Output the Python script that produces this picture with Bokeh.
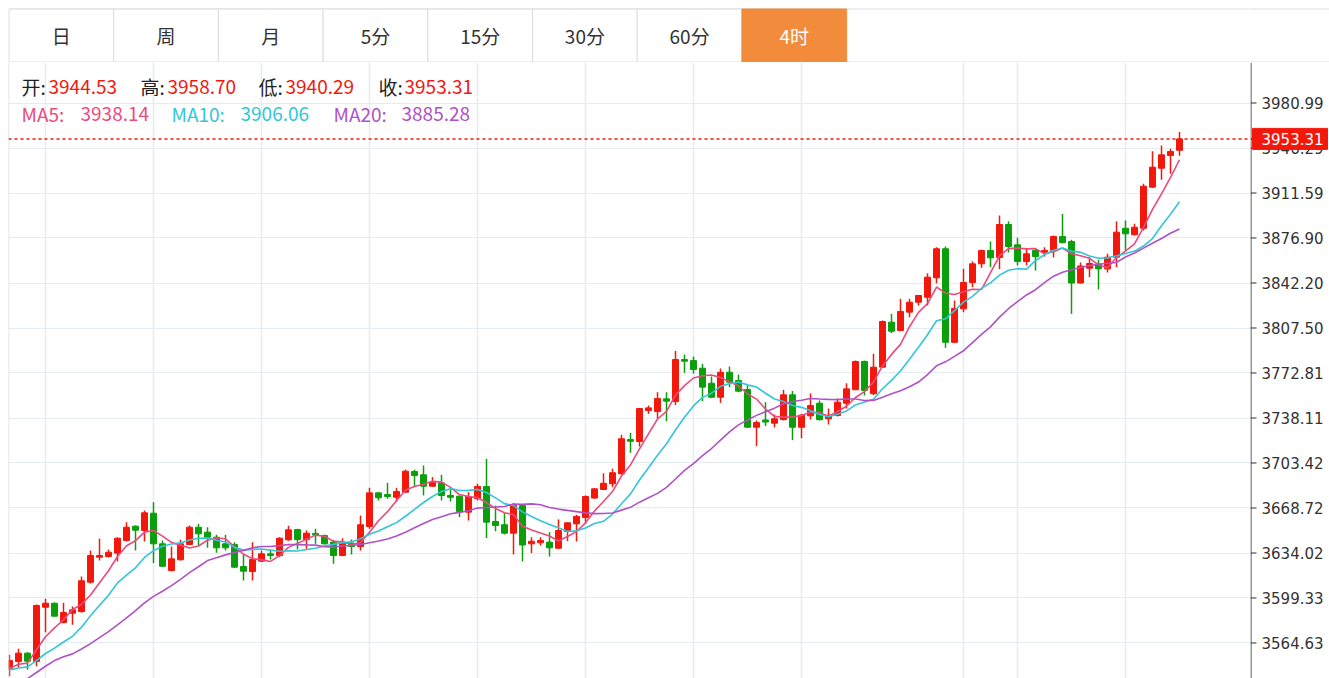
import pandas as pd
from bokeh.plotting import figure
from bokeh.models import (Range1d, FixedTicker, Span, Label, Grid, ColumnDataSource)
from bokeh.layouts import column, row
from bokeh.embed import file_html
from bokeh.resources import INLINE
from bokeh.core.properties import value

# ---------------- data ----------------
tabs = ["日", "周", "月", "5分", "15分", "30分", "60分", "4时"]
selected_tab = "4时"

opens = [3544.2, 3550.4, 3556.8, 3550.4, 3592.2, 3595.3, 3580.4, 3587.6, 3588.9, 3611.5,
         3630.8, 3631.3, 3633.9, 3643.7, 3654.7, 3651.4, 3664.7, 3641.1, 3620.5, 3628.8,
         3640.6, 3653.9, 3650.1, 3646.2, 3641.1, 3640.6, 3623.6, 3619.8, 3627.7, 3633.4,
         3632.1, 3644.2, 3652.1, 3644.4, 3649.1, 3647.5, 3642.4, 3632.1, 3641.6, 3639.0,
         3654.5, 3680.4, 3679.1, 3677.0, 3680.9, 3696.9, 3694.3, 3685.5, 3688.1, 3678.4,
         3677.8, 3665.5, 3676.0, 3685.3, 3658.3, 3655.8, 3649.3, 3670.6, 3641.1, 3641.9,
         3642.4, 3637.7, 3650.6, 3656.5, 3661.4, 3676.4, 3683.0, 3687.4, 3695.1, 3721.5,
         3720.0, 3743.9, 3743.1, 3752.9, 3750.8, 3783.2, 3782.4, 3776.5, 3764.9, 3754.1,
         3773.4, 3767.0, 3760.1, 3731.0, 3736.6, 3734.1, 3736.9, 3756.0, 3731.0, 3739.8,
         3749.5, 3737.5, 3740.0, 3749.5, 3759.9, 3781.7, 3756.8, 3777.3, 3812.0, 3805.6,
         3819.7, 3827.4, 3831.2, 3846.2, 3868.6, 3796.5, 3822.3, 3842.6, 3857.0, 3867.3,
         3861.9, 3887.3, 3871.6, 3858.8, 3867.3, 3866.0, 3867.3, 3878.0, 3874.2, 3842.2,
         3853.6, 3856.8, 3853.1, 3862.1, 3884.4, 3879.4, 3884.4, 3916.1, 3930.7, 3940.5,
         3944.53]
highs = [3555.5, 3560.2, 3557.5, 3594.3, 3598.7, 3595.8, 3595.6, 3592.8, 3615.9, 3635.9,
         3645.0, 3636.7, 3646.2, 3657.8, 3655.2, 3666.8, 3673.2, 3643.7, 3639.0, 3644.2,
         3655.2, 3656.5, 3653.9, 3648.0, 3648.0, 3642.4, 3633.6, 3642.4, 3635.9, 3636.5,
         3646.2, 3655.0, 3652.7, 3651.4, 3652.7, 3648.3, 3644.2, 3645.4, 3644.4, 3662.9,
         3684.3, 3680.9, 3688.1, 3684.3, 3698.4, 3698.2, 3701.5, 3692.5, 3694.3, 3683.5,
         3678.4, 3680.9, 3687.4, 3706.6, 3670.6, 3664.7, 3672.6, 3671.2, 3646.2, 3646.2,
         3650.1, 3659.9, 3657.5, 3663.5, 3678.4, 3684.0, 3695.5, 3699.0, 3725.2, 3726.7,
         3745.9, 3747.7, 3758.0, 3758.0, 3789.8, 3787.1, 3785.5, 3779.9, 3770.1, 3776.3,
         3777.8, 3771.6, 3763.2, 3736.2, 3750.3, 3740.8, 3759.8, 3758.9, 3741.3, 3757.0,
         3751.6, 3745.4, 3753.1, 3764.9, 3782.4, 3782.4, 3787.6, 3813.3, 3818.4, 3830.0,
         3830.0, 3833.0, 3849.7, 3869.8, 3870.3, 3828.7, 3853.1, 3858.8, 3867.8, 3874.2,
         3894.2, 3889.8, 3877.0, 3868.6, 3868.6, 3869.8, 3878.8, 3895.5, 3875.5, 3858.0,
         3862.1, 3860.1, 3864.7, 3889.6, 3890.4, 3887.8, 3918.7, 3943.8, 3948.2, 3945.7,
         3958.70]
lows = [3539.0, 3546.0, 3544.0, 3546.7, 3573.0, 3585.0, 3579.8, 3578.7, 3588.0, 3610.5,
        3628.2, 3630.5, 3627.5, 3642.9, 3635.9, 3642.9, 3626.2, 3623.5, 3619.8, 3628.2,
        3640.0, 3639.8, 3638.0, 3634.2, 3635.9, 3622.6, 3612.8, 3612.8, 3627.0, 3629.0,
        3630.8, 3643.5, 3636.7, 3637.3, 3641.1, 3640.6, 3625.7, 3631.5, 3632.9, 3635.9,
        3652.7, 3674.5, 3675.8, 3673.7, 3680.5, 3684.8, 3678.4, 3685.0, 3674.5, 3673.7,
        3661.6, 3659.1, 3674.5, 3645.6, 3650.8, 3648.3, 3632.9, 3627.5, 3633.9, 3639.8,
        3631.3, 3637.0, 3643.1, 3642.9, 3656.5, 3676.0, 3682.5, 3684.8, 3694.5, 3711.3,
        3716.1, 3741.3, 3738.0, 3735.6, 3748.1, 3773.0, 3772.4, 3751.1, 3753.5, 3749.8,
        3761.9, 3758.0, 3730.5, 3716.4, 3731.9, 3730.8, 3736.2, 3721.1, 3722.5, 3736.9,
        3736.2, 3733.1, 3739.3, 3745.4, 3759.7, 3755.5, 3755.8, 3776.7, 3803.5, 3805.0,
        3815.8, 3824.8, 3824.8, 3842.0, 3792.2, 3796.0, 3819.7, 3839.0, 3853.9, 3854.4,
        3853.0, 3865.7, 3855.7, 3855.7, 3851.8, 3862.6, 3861.9, 3872.7, 3818.4, 3841.8,
        3846.7, 3837.2, 3850.3, 3854.4, 3867.3, 3878.8, 3882.7, 3915.5, 3921.8, 3926.4,
        3940.29]
closes = [3551.1, 3556.8, 3550.6, 3593.5, 3595.3, 3585.3, 3588.1, 3590.2, 3612.6, 3632.1,
          3632.1, 3634.6, 3645.4, 3653.9, 3651.6, 3665.0, 3641.1, 3623.8, 3629.5, 3641.1,
          3653.9, 3648.8, 3646.2, 3638.0, 3638.0, 3623.1, 3620.0, 3629.0, 3633.4, 3632.1,
          3645.4, 3651.9, 3644.4, 3649.3, 3648.0, 3641.1, 3632.1, 3642.4, 3639.0, 3655.8,
          3680.4, 3676.6, 3677.6, 3681.4, 3697.1, 3693.8, 3685.5, 3688.6, 3678.4, 3677.0,
          3666.0, 3677.6, 3685.3, 3657.8, 3655.2, 3649.3, 3670.6, 3640.2, 3643.1, 3643.7,
          3638.0, 3651.4, 3657.3, 3662.2, 3677.6, 3683.5, 3687.8, 3695.9, 3722.1, 3720.2,
          3745.4, 3745.9, 3753.1, 3751.1, 3783.2, 3781.9, 3775.5, 3761.9, 3754.1, 3773.4,
          3765.7, 3758.8, 3731.0, 3734.6, 3735.0, 3737.5, 3756.0, 3731.0, 3740.3, 3747.7,
          3736.8, 3740.3, 3750.3, 3760.6, 3781.7, 3759.3, 3777.3, 3812.5, 3805.0, 3820.2,
          3827.4, 3832.6, 3846.7, 3868.6, 3796.5, 3822.5, 3842.6, 3857.0, 3867.3, 3861.6,
          3887.3, 3870.3, 3858.8, 3864.7, 3862.6, 3867.3, 3878.0, 3873.4, 3842.2, 3855.3,
          3857.2, 3853.1, 3862.1, 3881.4, 3880.1, 3885.2, 3916.8, 3931.5, 3941.0, 3943.6,
          3953.31]
# closes just before the visible window (estimated from where the MA lines start)
prior_closes = [3496, 3500, 3497, 3499, 3498, 3530, 3545, 3538, 3548, 3540,
                3543, 3541, 3546, 3540, 3544, 3541, 3546, 3542, 3545]

y_ticks = [3564.63, 3599.33, 3634.02, 3668.72, 3703.42, 3738.11, 3772.81,
           3807.50, 3842.20, 3876.90, 3911.59, 3946.29, 3980.99]
# candle indices where the vertical (time) grid lines fall
grid_candles = [4, 16, 28, 40, 52, 64, 76, 88, 106, 112, 124]

ohlc_labels = ["开:", "高:", "低:", "收:"]
ohlc_values = [3944.53, 3958.70, 3940.29, 3953.31]
ma_periods = [5, 10, 20]
ma_header_values = [3938.14, 3906.06, 3885.28]

# ---------------- styling ----------------
UP = "#F2180C"
DOWN = "#0C9F0C"
MA_COLORS = ["#EC4A7E", "#33C6D9", "#AF52C7"]
GRID = "#E4EBF1"
BORDER = "#DCDCDC"
AXIS = "#333333"
CJK = "Noto Sans CJK SC"

W = 1329
TAB_H = 62
CH_H = 616
LEFT = 8
AX_W = 79
MAIN_W = W - AX_W
frame_w = MAIN_W - LEFT

# ---------------- tabs ----------------
tab_w = 104.75
tf = figure(width=MAIN_W, height=TAB_H, x_range=Range1d(-0.5 / tab_w, frame_w / tab_w),
            y_range=Range1d(0, TAB_H), x_axis_location=None, y_axis_location=None,
            toolbar_location=None, output_backend="svg",
            min_border_left=LEFT, min_border_right=0, min_border_top=0, min_border_bottom=0)
tf.grid.visible = False
tf.outline_line_color = None
tab_idx = list(range(len(tabs)))
sel = [t == selected_tab for t in tabs]
tf.quad(left=[0], right=[len(tabs) + 20], bottom=[0.5], top=[53.5],
        fill_color=None, line_color=BORDER, line_width=1)
tf.quad(left=tab_idx, right=[i + 1 for i in tab_idx], bottom=0.5, top=53.5,
        fill_color=["#F28B3C" if s else "white" for s in sel],
        line_color=["#F28B3C" if s else BORDER for s in sel], line_width=1)
tf.text(x=[i + 0.5 for i in tab_idx], y=[27] * len(tabs), text=tabs,
        text_font=value(CJK), text_font_size="19px", text_align="center",
        text_baseline="middle", text_color=["white" if s else "#333333" for s in sel])

# continuation of the tab bar borders above the price scale
tr = figure(width=AX_W, height=TAB_H, x_range=Range1d(0, AX_W), y_range=Range1d(0, TAB_H),
            x_axis_location=None, y_axis_location=None, toolbar_location=None,
            output_backend="svg", min_border=0)
tr.grid.visible = False
tr.outline_line_color = None
tr.add_layout(Span(location=53.5, dimension="width", line_color=BORDER, line_width=1))
tr.add_layout(Span(location=0.5, dimension="width", line_color=BORDER, line_width=1))

# ---------------- chart ----------------
slot = 9.0        # px per candle
first_px = 1.0    # px of candle 0 from the frame's left edge
x_start = -first_px / slot
x_end = (frame_w - first_px) / slot
px_per_val = 45 / 34.697
y_hi = 3980.99 + 40.5 / px_per_val
y_lo = y_hi - CH_H / px_per_val
yr = Range1d(y_lo, y_hi)

p = figure(width=MAIN_W, height=CH_H, x_range=Range1d(x_start, x_end), y_range=yr,
           x_axis_location=None, y_axis_location=None, toolbar_location=None,
           output_backend="svg", min_border_left=LEFT, min_border_right=0,
           min_border_top=0, min_border_bottom=0)
p.grid.visible = False
p.outline_line_color = None
p.add_layout(Grid(dimension=0, ticker=FixedTicker(ticks=grid_candles),
                  grid_line_color=GRID, grid_line_width=1.5))
p.add_layout(Grid(dimension=1, ticker=FixedTicker(ticks=y_ticks),
                  grid_line_color=GRID, grid_line_width=1.2))
p.add_layout(Span(location=x_start, dimension="height", line_color=BORDER, line_width=1.5))

n = len(closes)
idx = list(range(n))
colors = [UP if c >= o else DOWN for o, c in zip(opens, closes)]
src = ColumnDataSource(dict(x=idx, h=highs, l=lows,
                            top=[max(o, c) for o, c in zip(opens, closes)],
                            bottom=[min(o, c) for o, c in zip(opens, closes)],
                            color=colors))
p.segment(x0="x", y0="l", x1="x", y1="h", line_color="color", line_width=1.5, source=src)
p.vbar(x="x", width=0.66, top="top", bottom="bottom", fill_color="color",
       line_color="color", line_width=1, source=src)

series = pd.Series(prior_closes + closes, dtype=float)
for per, col in zip(ma_periods, MA_COLORS):
    ma = series.rolling(per).mean().iloc[len(prior_closes):].tolist()
    p.line(idx, ma, line_color=col, line_width=1.6)

p.add_layout(Span(location=closes[-1], dimension="width", line_color=UP,
                  line_width=1.5, line_dash="3 3"))

# header texts
line1_y = CH_H - 24
line2_y = CH_H - 51
lab_x = [13, 132, 250, 370]
val_x = [40, 159, 277, 396]
for lx, vx, lt, vv in zip(lab_x, val_x, ohlc_labels, ohlc_values):
    p.add_layout(Label(x=lx, y=line1_y, x_units="screen", y_units="screen", text=lt,
                       text_font=CJK, text_font_size="19px", text_color="#222222",
                       text_baseline="middle"))
    p.add_layout(Label(x=vx, y=line1_y, x_units="screen", y_units="screen", text=f"{vv:.2f}",
                       text_font=CJK, text_font_size="19px", text_color=UP,
                       text_baseline="middle"))
ma_lab_x = [13, 163, 325]
ma_val_x = [72, 232, 393]
for lx, vx, per, vv, col in zip(ma_lab_x, ma_val_x, ma_periods, ma_header_values, MA_COLORS):
    p.add_layout(Label(x=lx, y=line2_y, x_units="screen", y_units="screen", text=f"MA{per}:",
                       text_font=CJK, text_font_size="19px", text_color=col,
                       text_baseline="middle"))
    p.add_layout(Label(x=vx, y=line2_y, x_units="screen", y_units="screen", text=f"{vv:.2f}",
                       text_font=CJK, text_font_size="19px", text_color=col,
                       text_baseline="middle"))

# ---------------- price scale (right strip, shares the price range) ----------------
r = figure(width=AX_W, height=CH_H, x_range=Range1d(0, AX_W), y_range=yr,
           x_axis_location=None, y_axis_location=None, toolbar_location=None,
           output_backend="svg", min_border=0)
r.grid.visible = False
r.outline_line_color = None
r.add_layout(Span(location=0.5, dimension="height", line_color=AXIS, line_width=1))
r.segment(x0=[0] * len(y_ticks), y0=y_ticks, x1=[6] * len(y_ticks), y1=y_ticks,
          line_color=AXIS, line_width=1)
r.text(x=[11] * len(y_ticks), y=y_ticks, text=[f"{t:.2f}" for t in y_ticks],
       text_font=value("DejaVu Sans"), text_font_size="15px", text_color=AXIS,
       text_align="left", text_baseline="middle")
# current price tag
r.segment(x0=[0], y0=[closes[-1]], x1=[4], y1=[closes[-1]], line_color=UP, line_width=1.5)
r.rect(x=[39.5], y=[closes[-1]], width=[75], height=[21], height_units="screen",
       fill_color=UP, line_color=UP)
r.text(x=[11], y=[closes[-1]], text=[f"{closes[-1]:.2f}"],
       text_font=value("DejaVu Sans"), text_font_size="15px", text_color="white",
       text_align="left", text_baseline="middle")

layout = column(row(tf, tr, spacing=0), row(p, r, spacing=0), spacing=0)
open("out.html", "w").write(file_html(layout, INLINE))
